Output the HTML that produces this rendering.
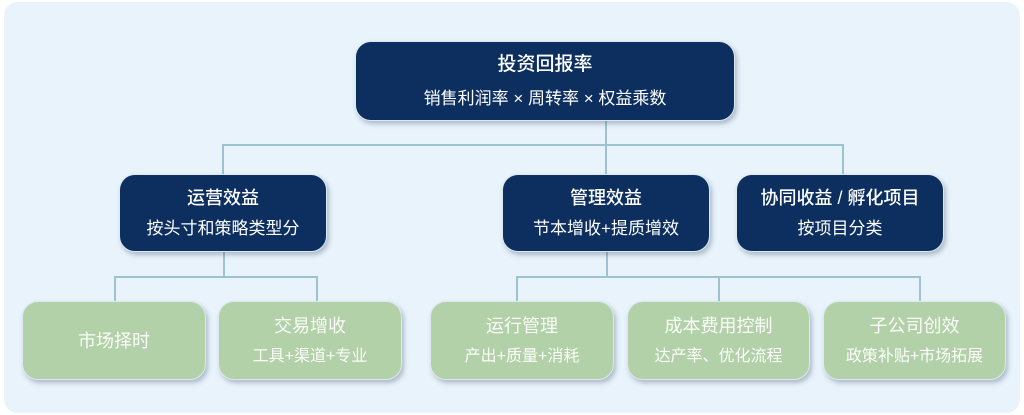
<!DOCTYPE html>
<html><head><meta charset="utf-8"><style>
body{margin:0;width:1024px;height:415px;background:#fff;position:relative;overflow:hidden;font-family:"Liberation Sans","Noto Sans CJK SC",sans-serif}
.bg{position:absolute;left:4px;top:2px;width:1016px;height:411px;background:#e8f3fb;border-radius:14px}
.b{position:absolute;border-radius:16px;color:#fff;text-align:center;box-shadow:2px 3px 5px rgba(60,80,110,.35);display:flex;flex-direction:column;justify-content:center;box-sizing:border-box;border:1.5px solid #dde8f0}
.d{background:#0c2f60}
.g{background:#b2d1a8;color:#fbfdf9}
.t{font-size:18px;font-weight:500;line-height:32px}
.s{font-size:17px;line-height:30px}
.g .s{font-size:16px}
.l{position:absolute;background:#9cc3cf}
</style></head><body>
<div class="bg"></div>
<div class="l" style="left:222px;top:144px;width:621px;height:1.5px"></div>
<div class="l" style="left:605px;top:120px;width:1.5px;height:54px"></div>
<div class="l" style="left:222px;top:144px;width:1.5px;height:30px"></div>
<div class="l" style="left:842px;top:144px;width:1.5px;height:30px"></div>
<div class="l" style="left:223px;top:252px;width:1.5px;height:24px"></div>
<div class="l" style="left:114px;top:276px;width:203px;height:1.5px"></div>
<div class="l" style="left:114px;top:276px;width:1.5px;height:25px"></div>
<div class="l" style="left:316px;top:276px;width:1.5px;height:25px"></div>
<div class="l" style="left:606px;top:252px;width:1.5px;height:24px"></div>
<div class="l" style="left:516px;top:276px;width:404px;height:1.5px"></div>
<div class="l" style="left:516px;top:276px;width:1.5px;height:25px"></div>
<div class="l" style="left:718px;top:276px;width:1.5px;height:25px"></div>
<div class="l" style="left:919px;top:276px;width:1.5px;height:25px"></div>

<div class="b d" style="left:355px;top:41px;width:380px;height:80px"><div class="t" style="font-size:19px;line-height:36px">投资回报率</div><div class="s" style="font-size:17px;line-height:32px">销售利润率 × 周转率 × 权益乘数</div></div>
<div class="b d" style="left:119px;top:174px;width:208px;height:78px"><div class="t">运营效益</div><div class="s">按头寸和策略类型分</div></div>
<div class="b d" style="left:502px;top:174px;width:208px;height:78px"><div class="t">管理效益</div><div class="s">节本增收+提质增效</div></div>
<div class="b d" style="left:736px;top:174px;width:208px;height:78px"><div class="t">协同收益 / 孵化项目</div><div class="s">按项目分类</div></div>
<div class="b g" style="left:22px;top:301px;width:184px;height:79px"><div class="t" style="font-weight:normal">市场择时</div></div>
<div class="b g" style="left:218px;top:301px;width:184px;height:79px"><div class="t" style="font-weight:normal">交易增收</div><div class="s">工具+渠道+专业</div></div>
<div class="b g" style="left:430px;top:301px;width:184px;height:79px"><div class="t" style="font-weight:normal">运行管理</div><div class="s">产出+质量+消耗</div></div>
<div class="b g" style="left:627px;top:301px;width:183px;height:79px"><div class="t" style="font-weight:normal">成本费用控制</div><div class="s">达产率、优化流程</div></div>
<div class="b g" style="left:823px;top:301px;width:183px;height:79px"><div class="t" style="font-weight:normal">子公司创效</div><div class="s">政策补贴+市场拓展</div></div>
</body></html>
